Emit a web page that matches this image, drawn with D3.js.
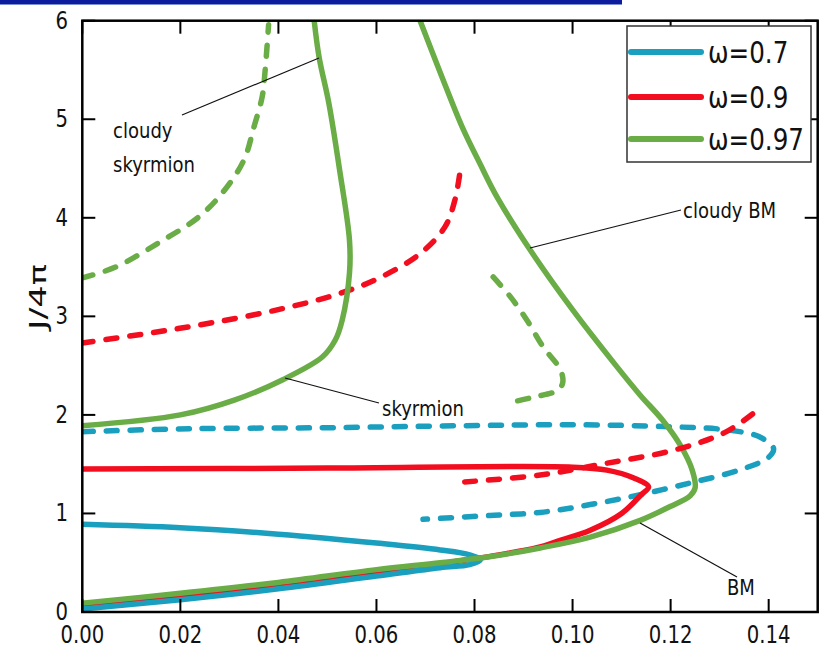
<!DOCTYPE html>
<html>
<head>
<meta charset="utf-8">
<script src="https://cdn.jsdelivr.net/npm/d3@7"></script>
<style>
  body { margin: 0; background: #fff; }
  text { font-family: "DejaVu Sans", sans-serif; fill: #111; }
</style>
</head>
<body>
<div id="chart"></div>
<script>
// tick values
var xTicks = [0, 0.02, 0.04, 0.06, 0.08, 0.10, 0.12, 0.14];
var yTicks = [0, 1, 2, 3, 4, 5, 6];
var legendLabels = ["ω=0.7", "ω=0.9", "ω=0.97"];

// curves: [x, J/4pi]
var blueSolid = [[0,0.89],[0.02,0.855],[0.04,0.79],[0.06,0.7],[0.073,0.63],[0.079,0.58],[0.0812,0.53],
                 [0.079,0.48],[0.073,0.45],[0.06,0.365],[0.04,0.235],[0.02,0.125],[0,0.03]];
var blueDashed = [[0,1.83],[0.022,1.86],[0.05,1.87],[0.077,1.89],[0.1,1.9],[0.12,1.88],[0.131,1.85],
                  [0.138,1.78],[0.141,1.66],[0.14,1.57],[0.134,1.44],[0.124,1.31],[0.1138,1.19],
                  [0.1036,1.09],[0.0934,1.01],[0.0832,0.98],[0.073,0.95],[0.0695,0.94]];
var redSolid = [[0,1.45],[0.05,1.46],[0.1,1.47],[0.107,1.44],[0.1125,1.36],[0.1155,1.27],[0.114,1.19],
                [0.11,1.0],[0.1036,0.83],[0.097,0.72],[0.0934,0.66],[0.085,0.58],[0.08,0.54],
                [0.073,0.49],[0.06,0.4],[0.04,0.265],[0.02,0.155],[0,0.06]];
var redDashedUpper = [[0,2.73],[0.0137,2.83],[0.027,2.94],[0.041,3.08],[0.053,3.24],[0.061,3.4],
                      [0.069,3.64],[0.074,3.91],[0.076,4.18],[0.077,4.45]];
var redDashedLower = [[0.078,1.32],[0.0934,1.39],[0.107,1.51],[0.1205,1.64],[0.131,1.82],[0.137,2.02]];
var greenSkyrmion = [[0,1.89],[0.02,2.0],[0.031,2.15],[0.041,2.36],[0.049,2.59],[0.0516,2.76],[0.053,2.96],
                     [0.0545,3.44],[0.0545,3.77],[0.0525,4.48],[0.0503,5.16],[0.0483,5.63],[0.0473,6.0]];
var greenBM = [[0,0.09],[0.02,0.19],[0.04,0.3],[0.06,0.43],[0.073,0.5],[0.083,0.56],[0.0934,0.65],
               [0.1036,0.76],[0.1138,0.93],[0.1199,1.07],[0.124,1.18],[0.125,1.26],[0.1244,1.44],
               [0.122,1.69],[0.1183,1.95],[0.1138,2.2],[0.1087,2.51],[0.1001,3.06],[0.0914,3.67],
               [0.0846,4.21],[0.0812,4.54],[0.0775,4.92],[0.0732,5.45],[0.0689,6.0]];
var greenDashedUpper = [[0,3.39],[0.0068,3.5],[0.0157,3.75],[0.0238,4.01],[0.029,4.28],[0.033,4.59],
                        [0.035,4.92],[0.0367,5.23],[0.0373,5.5],[0.038,5.96]];
var greenDashedLower = [[0.0838,3.40],[0.0873,3.2],[0.0907,2.96],[0.094,2.69],[0.0975,2.46],
                        [0.098,2.33],[0.097,2.25],[0.092,2.18],[0.0867,2.12]];

var blue = "#1a9fbf", red = "#f20d1f", green = "#6aac46";
var colors = [blue, red, green];
var sx = 0.82; // the original glyphs are narrow

var width = 821, height = 650;
var svg = d3.select("#chart").append("svg")
    .attr("width", width)
    .attr("height", height);

// blue bar along the top
svg.append("rect").attr("x", 0).attr("y", 0).attr("width", 622).attr("height", 4).attr("fill", "#0c1c9c");
svg.append("rect").attr("x", 0).attr("y", 4).attr("width", 622).attr("height", 1).attr("fill", "#7f8fd4");

var x = d3.scaleLinear().domain([0, 0.15]).range([82.3, 817.7]);
var y = d3.scaleLinear().domain([0, 6]).range([612, 20.7]);

function label(sel, px, py, s, size, anchor) {
    return sel.append("text")
        .attr("transform", "translate(" + px + "," + py + ") scale(" + sx + ",1)")
        .attr("text-anchor", anchor || "start")
        .style("font-size", size + "px")
        .text(s);
}

// clip
svg.append("defs").append("clipPath").attr("id", "clip")
    .append("rect")
    .attr("x", x(0)).attr("y", y(6))
    .attr("width", x(0.15) - x(0)).attr("height", y(0) - y(6));

var line = d3.line()
    .x(function(d) { return x(d[0]); })
    .y(function(d) { return y(d[1]); })
    .curve(d3.curveCatmullRom.alpha(0.5));

var plot = svg.append("g").attr("clip-path", "url(#clip)");

function curve(data, color, dashed) {
    plot.append("path")
        .datum(data)
        .attr("d", line)
        .attr("fill", "none")
        .attr("stroke", color)
        .attr("stroke-width", 5.5)
        .attr("stroke-linecap", "round")
        .attr("stroke-dasharray", dashed ? "11,13" : null);
}

curve(blueDashed, blue, true);
curve(redDashedUpper, red, true);
curve(greenDashedUpper, green, true);
curve(greenDashedLower, green, true);
curve(redSolid, red, false);
curve(blueSolid, blue, false);
curve(greenSkyrmion, green, false);
curve(greenBM, green, false);
curve(redDashedLower, red, true);

// annotations
var notes = [
    {from: [182, 115], to: [319, 58]},
    {from: [285, 378], to: [379, 403]},
    {from: [530, 248], to: [681, 210]},
    {from: [640, 523], to: [737, 577]}
];
svg.selectAll(".note")
    .data(notes)
    .enter()
    .append("line")
    .attr("class", "note")
    .attr("x1", function(d) { return d.from[0]; })
    .attr("y1", function(d) { return d.from[1]; })
    .attr("x2", function(d) { return d.to[0]; })
    .attr("y2", function(d) { return d.to[1]; })
    .attr("stroke", "#111")
    .attr("stroke-width", 1.2);

label(svg, 113, 138, "cloudy", 22);
label(svg, 113, 172, "skyrmion", 22);
label(svg, 382, 416, "skyrmion", 22);
label(svg, 683, 218, "cloudy BM", 22);
label(svg, 727, 595, "BM", 22);

// frame and ticks (inside, on all four sides)
var axes = svg.append("g");
axes.append("rect")
    .attr("x", x(0)).attr("y", y(6))
    .attr("width", x(0.15) - x(0)).attr("height", y(0) - y(6))
    .attr("fill", "none").attr("stroke", "#000").attr("stroke-width", 2.5);

var tl = 13;
xTicks.forEach(function(t) {
    axes.append("line").attr("x1", x(t)).attr("x2", x(t)).attr("y1", y(0)).attr("y2", y(0) - tl)
        .attr("stroke", "#000").attr("stroke-width", 2);
    axes.append("line").attr("x1", x(t)).attr("x2", x(t)).attr("y1", y(6)).attr("y2", y(6) + tl)
        .attr("stroke", "#000").attr("stroke-width", 2);
    label(axes, x(t), 643, d3.format(".2f")(t), 24, "middle");
});
yTicks.forEach(function(t) {
    axes.append("line").attr("x1", x(0)).attr("x2", x(0) + tl).attr("y1", y(t)).attr("y2", y(t))
        .attr("stroke", "#000").attr("stroke-width", 2);
    axes.append("line").attr("x1", x(0.15)).attr("x2", x(0.15) - tl).attr("y1", y(t)).attr("y2", y(t))
        .attr("stroke", "#000").attr("stroke-width", 2);
    label(axes, 68, y(t) + 8, String(t), 24, "end");
});

// y axis label
svg.append("text")
    .attr("transform", "translate(46,297) rotate(-90)")
    .attr("text-anchor", "middle")
    .attr("textLength", 66)
    .attr("lengthAdjust", "spacingAndGlyphs")
    .style("font-size", "23px")
    .text("J/4π");

// legend
var legend = svg.append("g");
legend.append("rect")
    .attr("x", 627).attr("y", 26).attr("width", 184).attr("height", 136)
    .attr("fill", "#fff").attr("stroke", "#333").attr("stroke-width", 1.5);
var rows = [52, 97, 139];
legendLabels.forEach(function(s, i) {
    legend.append("line")
        .attr("x1", 631).attr("x2", 701).attr("y1", rows[i]).attr("y2", rows[i])
        .attr("stroke", colors[i]).attr("stroke-width", 6).attr("stroke-linecap", "round");
    label(legend, 708, rows[i] + 11, s, 30);
});
</script>
</body>
</html>
